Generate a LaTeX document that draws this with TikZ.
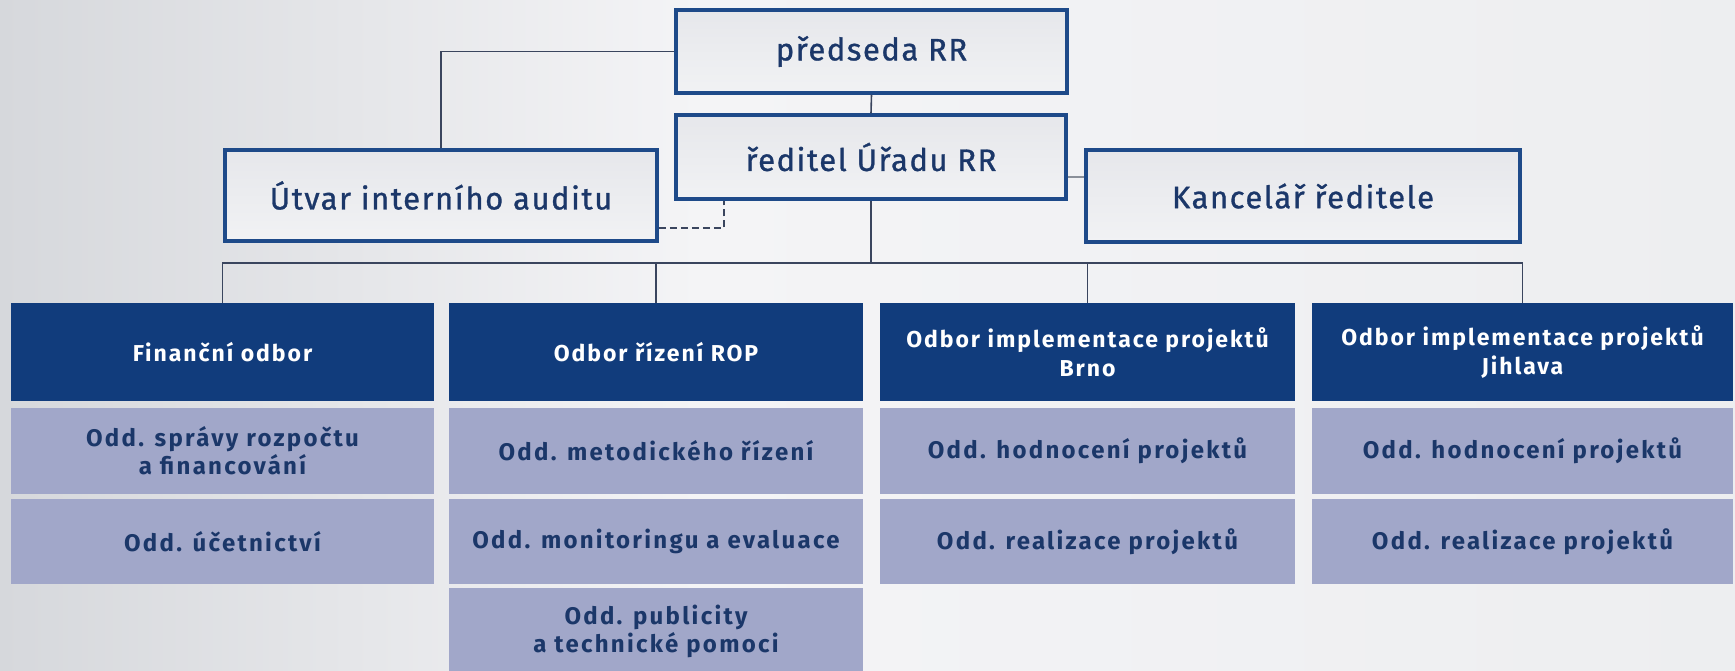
\documentclass[tikz,border=0pt]{standalone}
\usepackage{fontspec}
\setmainfont{Fira Sans}
\newfontfamily\topfont{Fira Sans}[FakeBold=1.0, LetterSpace=5]
\newfontfamily\darkfont{Fira Sans}[LetterSpace=8.5]
\newfontfamily\lightfont{Fira Sans}[LetterSpace=9.5]
\definecolor{navy}{HTML}{113C7C}
\definecolor{bordc}{HTML}{1E4A89}
\definecolor{lav}{HTML}{A1A7C9}
\definecolor{txt}{HTML}{1B3769}
\definecolor{conn}{HTML}{3A455E}
\definecolor{connlt}{HTML}{8A9099}
\definecolor{bgL}{HTML}{D6D8DC}
\definecolor{bgM}{HTML}{F4F4F6}
\definecolor{bgR}{HTML}{EDEEF0}
\definecolor{boxT}{HTML}{E6E7EB}
\definecolor{boxB}{HTML}{F1F2F4}
\begin{document}
\begin{tikzpicture}[x=1pt,y=-1pt,
  topbox/.style={draw=bordc, line width=3.5pt, top color=boxT, bottom color=boxB,
    inner sep=0pt, text=txt, font=\topfont\fontsize{31}{36}\selectfont},
  dbox/.style={fill=navy, inner sep=0pt, text=white, align=center,
    minimum height=98, font=\darkfont\fontsize{23}{29}\selectfont\bfseries},
  lbox/.style={fill=lav, inner sep=0pt, text=txt, align=center,
    font=\lightfont\fontsize{24}{28}\selectfont\bfseries},
  link/.style={draw=conn, line width=1.6pt},
  linklt/.style={draw=connlt, line width=1.6pt},
  dlink/.style={draw=conn, line width=1.6pt, dash pattern=on 7pt off 4pt}]
\useasboundingbox (0,0) rectangle (1735,670);
\fill[left color=bgL, right color=bgM] (0,0) rectangle (700,670);
\fill[left color=bgM, right color=bgR] (700,0) rectangle (1735,670);

% top boxes
\node[topbox, minimum width=391, minimum height=83] (pred) at (871.5,51.5) {předseda RR};
\node[topbox, minimum width=390, minimum height=84] (red) at (871,157) {ředitel Úřadu RR};
\node[topbox, minimum width=432, minimum height=91] (utv) at (441,195.5) {Útvar interního auditu};
\node[topbox, minimum width=434, minimum height=92] (kanc) at (1303,196) {Kancelář ředitele};

% departments
\node[dbox, minimum width=423] (fin) at (222.5,352) {Finanční odbor};
\node[dbox, minimum width=414] (rop) at (656,352) {Odbor řízení ROP};
\node[dbox, minimum width=415] (brno) at (1087.5,352) {Odbor implementace projektů\\Brno};
\node[dbox, minimum width=421] (jih) at (1522.5,352) {Odbor implementace projektů\\Jihlava};

% sections
\node[lbox, minimum width=423, minimum height=86] (fin1) at (222.5,451) {Odd. správy rozpočtu\\a financování};
\node[lbox, minimum width=423, minimum height=85] (fin2) at (222.5,541.5) {Odd. účetnictví};
\node[lbox, minimum width=414, minimum height=86] (rop1) at (656,451) {Odd. metodického řízení};
\node[lbox, minimum width=414, minimum height=85] (rop2) at (656,541.5) {Odd. monitoringu a evaluace};
\node[lbox, minimum width=414, minimum height=86] (rop3) at (656,631) {Odd. publicity\\a technické pomoci};
\node[lbox, minimum width=415, minimum height=86] (brno1) at (1087.5,451) {Odd. hodnocení projektů};
\node[lbox, minimum width=415, minimum height=85] (brno2) at (1087.5,541.5) {Odd. realizace projektů};
\node[lbox, minimum width=421, minimum height=86] (jih1) at (1522.5,451) {Odd. hodnocení projektů};
\node[lbox, minimum width=421, minimum height=85] (jih2) at (1522.5,541.5) {Odd. realizace projektů};

% connectors
\coordinate (bus) at (871,263);
\coordinate (dk) at (724,228);
\coordinate (rk) at (0,177);
\draw[link] (pred.south) -- (red.north);
\draw[link] (utv.north) |- (pred.west);
\draw[dlink] (utv.east |- dk) -| (red.south -| dk);
\draw[linklt] (red.east |- rk) -- (kanc.west |- rk);
\draw[link] (red.south) -- (bus);
\draw[link] (fin.north) |- (bus) -| (jih.north);
\draw[link] (rop.north) -- (rop.north |- bus);
\draw[link] (brno.north) -- (brno.north |- bus);
\end{tikzpicture}
\end{document}
